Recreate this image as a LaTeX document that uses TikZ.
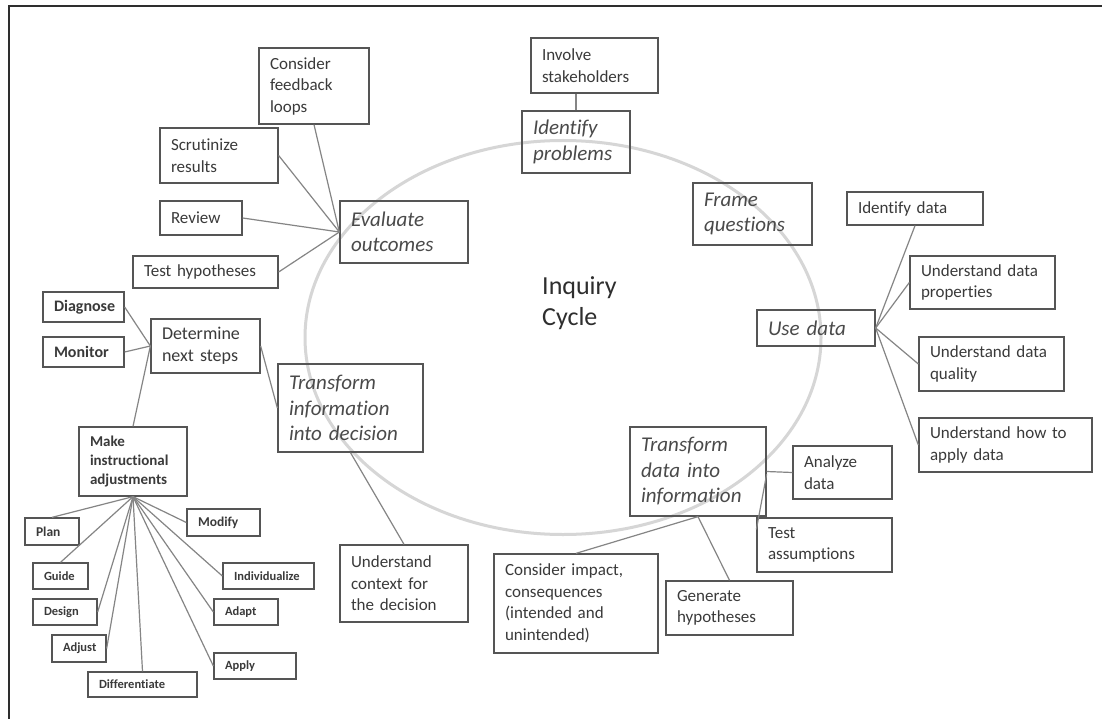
\documentclass[tikz,border=0pt]{standalone}
\usepackage{fontspec}
\setmainfont[Ligatures=NoCommon]{Carlito}
\usetikzlibrary{calc}

\definecolor{framec}{HTML}{2E2E2E}
\definecolor{boxc}{HTML}{555555}
\definecolor{txtc}{HTML}{3A3A3A}
\definecolor{maintxt}{HTML}{4A4A4A}
\definecolor{linkc}{HTML}{858585}
\definecolor{cyclec}{HTML}{D6D6D6}

% box given by its corners (x1,y1)-(x2,y2), in pixel-like units
\newcommand{\bx}[7]{%
  \pgfmathsetmacro{\bxw}{#4-#2}%
  \pgfmathsetmacro{\bxh}{#5-#3}%
  \pgfmathsetmacro{\bxcx}{(#2+#4)/2}%
  \pgfmathsetmacro{\bxcy}{(#3+#5)/2}%
  \pgfmathsetmacro{\bxtw}{#4-#2-22}%
  \node[box,#6,minimum width=\bxw pt,minimum height=\bxh pt,text width=\bxtw pt] (#1) at (\bxcx,\bxcy) {#7};}

\begin{document}
\begin{tikzpicture}[x=1pt,y=-1pt,
  box/.style={draw=boxc, line width=1.3pt, inner sep=0pt, align=left, text=txtc,
    font=\fontsize{17}{21.5}\selectfont},
  stage/.style={text=maintxt, font=\itshape\fontsize{21}{25.5}\selectfont},
  strong/.style={font=\bfseries\fontsize{16}{20}\selectfont},
  midstrong/.style={font=\bfseries\fontsize{15}{19}\selectfont},
  small/.style={font=\bfseries\fontsize{12.5}{15}\selectfont},
  smallbig/.style={font=\bfseries\fontsize{13.5}{16}\selectfont},
  link/.style={draw=linkc, line width=1.2pt},
  cycle line/.style={draw=cyclec, line width=3pt},
  frame/.style={draw=framec, line width=2pt}]

\useasboundingbox (0,0) rectangle (1102,719);
\fill[white] (0,0) rectangle (1102,719);

% page frame (top and left edges)
\draw[frame] (9,719) -- (9,6.5) -- (1102,6.5);

% the cycle
\draw[cycle line] (563,337.5) ellipse [x radius=258, y radius=197];
\node[anchor=north west, inner sep=0pt, align=left, text=framec,
  font=\fontsize{26}{31}\selectfont] (title) at (542,276) {Inquiry\\Cycle};

% evaluate outcomes
\bx{feedback}{259}{48}{369}{124}{}{Consider\\feedback\\loops}
\bx{scrut}{160}{128}{278}{183}{}{Scrutinize\\results}
\bx{review}{160}{201}{242}{235}{}{Review}
\bx{testhyp}{133}{256}{278}{288}{}{Test~hypotheses}
\bx{eval}{340}{201}{468}{263}{stage}{Evaluate\\outcomes}

% identify problems / frame questions
\bx{stake}{531}{38}{658}{93}{}{Involve\\stakeholders}
\bx{idprob}{522}{111}{630}{173}{stage}{Identify\\problems}
\bx{frameq}{693}{183}{812}{245}{stage}{Frame\\questions}

% use data
\bx{iddata}{847}{192}{983}{225}{}{Identify~data}
\bx{props}{910}{256}{1055}{309}{}{Understand~data\\properties}
\bx{usedata}{757}{310}{875}{346}{stage}{Use~data}
\bx{quality}{919}{337}{1064}{391}{}{Understand~data\\quality}
\bx{applyd}{919}{418}{1092}{472}{}{Understand~how~to\\apply~data}

% transform data into information
\bx{tdata}{630}{427}{766}{516}{stage}{Transform\\data~into\\information}
\bx{analyze}{793}{446}{892}{499}{}{Analyze\\data}
\bx{tassume}{757}{518}{892}{572}{}{Test\\assumptions}
\bx{generate}{666}{581}{793}{635}{}{Generate\\hypotheses}
\bx{cimpact}{494}{554}{658}{653}{}{Consider~impact,\\consequences\\(intended~and\\unintended)}

% transform information into decision
\bx{tinfo}{278}{364}{423}{452}{stage}{Transform\\information\\into~decision}
\bx{context}{340}{545}{468}{622}{}{Understand\\context~for\\the~decision}
\bx{determine}{151}{319}{260}{373}{font=\fontsize{18}{21.7}\selectfont}{Determine\\next~steps}
\bx{diagnose}{43}{292}{124}{322}{strong}{Diagnose}
\bx{monitor}{43}{337}{124}{367}{strong}{Monitor}
\bx{make}{79}{427}{187}{496}{midstrong}{Make\\instructional\\adjustments}

% instructional adjustments
\bx{plan}{25}{518}{79}{545}{smallbig}{Plan}
\bx{guide}{33}{563}{88}{589}{small}{Guide}
\bx{design}{33}{599}{97}{625}{small}{Design}
\bx{adjust}{52}{635}{106}{662}{small}{Adjust}
\bx{diff}{88}{672}{197}{697}{small}{Differentiate}
\bx{modify}{187}{509}{260}{536}{smallbig}{Modify}
\bx{individ}{223}{563}{314}{589}{small}{Individualize}
\bx{adapt}{214}{599}{278}{625}{small}{Adapt}
\bx{apply}{214}{653}{296}{679}{small}{Apply}

% connectors
\draw[link] (feedback.south) -- (eval.west);
\draw[link] (scrut.east) -- (eval.west);
\draw[link] (review.east) -- (eval.west);
\draw[link] (testhyp.east) -- (eval.west);

\draw[link] (idprob.north) -- (idprob.north |- stake.south);

\draw[link] (usedata.east) -- (iddata.south);
\draw[link] (usedata.east) -- (props.west);
\draw[link] (usedata.east) -- (quality.west);
\draw[link] (usedata.east) -- (applyd.west);

\draw[link] (tdata.east) -- (analyze.west);
\draw[link] ($(tdata.north east)!0.53!(tdata.south east)$) -- ($(tassume.north west)!0.22!(tassume.south west)$);
\draw[link] (tdata.south) -- (cimpact.north);
\draw[link] (tdata.south) -- (generate.north);

\draw[link] (tinfo.south) -- (context.north);
\draw[link] (determine.east) -- (tinfo.west);
\draw[link] (diagnose.east) -- (determine.west);
\draw[link] (monitor.east) -- (determine.west);
\draw[link] (determine.west) -- (make.north);

\draw[link] (make.south) -- (plan.north);
\draw[link] (make.south) -- (guide.north);
\draw[link] (make.south) -- (design.east);
\draw[link] (make.south) -- (adjust.east);
\draw[link] (make.south) -- (diff.north);
\draw[link] (make.south) -- (modify.west);
\draw[link] (make.south) -- (individ.west);
\draw[link] (make.south) -- (adapt.west);
\draw[link] (make.south) -- (apply.west);
\end{tikzpicture}
\end{document}
